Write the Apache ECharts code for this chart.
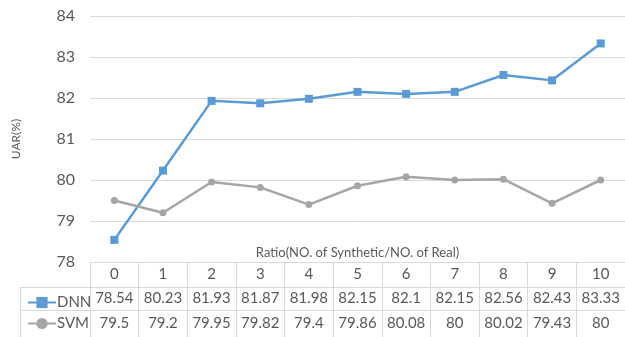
<!DOCTYPE html>
<html>
<head>
<meta charset="utf-8">
<script src="https://cdn.jsdelivr.net/npm/echarts@6/dist/echarts.min.js"></script>
<style>html,body{margin:0;padding:0;background:#fff}#c{width:625px;height:337px}</style>
</head>
<body>
<div id="c"></div>
<script>
const categories = ['0','1','2','3','4','5','6','7','8','9','10'];
const dnn = [78.54, 80.23, 81.93, 81.87, 81.98, 82.15, 82.1, 82.15, 82.56, 82.43, 83.33];
const svm = [79.5, 79.2, 79.95, 79.82, 79.4, 79.86, 80.08, 80, 80.02, 79.43, 80];
const yTicks = [78, 79, 80, 81, 82, 83, 84];

const FONT = 'Lato';
const TXT = '#595959';
const LINE = '#d9d9d9';

function tableAxis(data, offset, margin, tickLen) {
  return {
    type: 'category', gridIndex: 0, position: 'bottom', offset: offset,
    data: data,
    axisLine: { show: true, lineStyle: { color: LINE, width: 1 } },
    axisTick: { show: true, length: tickLen, interval: 0, alignWithLabel: false, lineStyle: { color: LINE } },
    axisLabel: { interval: 0, margin: margin, color: TXT, fontSize: 15, fontFamily: FONT },
    splitLine: { show: false }
  };
}

const chart = echarts.init(document.getElementById('c'), null, { renderer: 'canvas' });
const option = {
  backgroundColor: '#fff',
  animation: false,
  grid: { left: 90, right: -6, top: 16, bottom: 75, containLabel: false },
  legend: {
    orient: 'vertical', left: 22, top: 290, itemGap: 6, itemWidth: 28, itemHeight: 14,
    textStyle: { color: TXT, fontSize: 15, fontFamily: FONT, padding: [0, 0, 0, -4] },
    data: ['DNN', 'SVM']
  },
  xAxis: [
    Object.assign(tableAxis(categories, 0, 5, 25), {
      name: 'Ratio(NO. of Synthetic/NO. of Real)', nameLocation: 'middle', nameGap: -16,
      nameMoveOverlap: false,
      nameTextStyle: { color: TXT, fontSize: 13, fontFamily: FONT }
    }),
    tableAxis(dnn.map(String), 25, 4, 23),
    tableAxis(svm.map(String), 48, 6, 27)
  ],
  yAxis: {
    type: 'value', min: yTicks[0], max: yTicks[yTicks.length - 1], interval: 1,
    name: 'UAR(%)', nameLocation: 'middle', nameRotate: 90, nameGap: 68,
    nameTextStyle: { color: TXT, fontSize: 12, fontFamily: FONT },
    axisLine: { show: false }, axisTick: { show: false },
    axisLabel: { color: TXT, fontSize: 16, fontFamily: FONT, margin: 15 },
    splitLine: { lineStyle: { color: LINE, width: 1 } }
  },
  series: [
    { name: 'DNN', type: 'line', data: dnn, xAxisIndex: 0, symbol: 'rect', symbolSize: 8,
      itemStyle: { color: '#5b9bd5' }, lineStyle: { color: '#5b9bd5', width: 2.5 } },
    { name: 'SVM', type: 'line', data: svm, xAxisIndex: 0, symbol: 'circle', symbolSize: 7,
      itemStyle: { color: '#a5a5a5' }, lineStyle: { color: '#a5a5a5', width: 2.5 } }
  ],
  graphic: [
    { type: 'line', shape: { x1: 20, y1: 287.5, x2: 90, y2: 287.5 }, style: { stroke: LINE, lineWidth: 1 } },
    { type: 'line', shape: { x1: 20, y1: 310.5, x2: 90, y2: 310.5 }, style: { stroke: LINE, lineWidth: 1 } },
    { type: 'line', shape: { x1: 20.5, y1: 287, x2: 20.5, y2: 337 }, style: { stroke: LINE, lineWidth: 1 } }
  ]
};
chart.setOption(option);
</script>
</body>
</html>
